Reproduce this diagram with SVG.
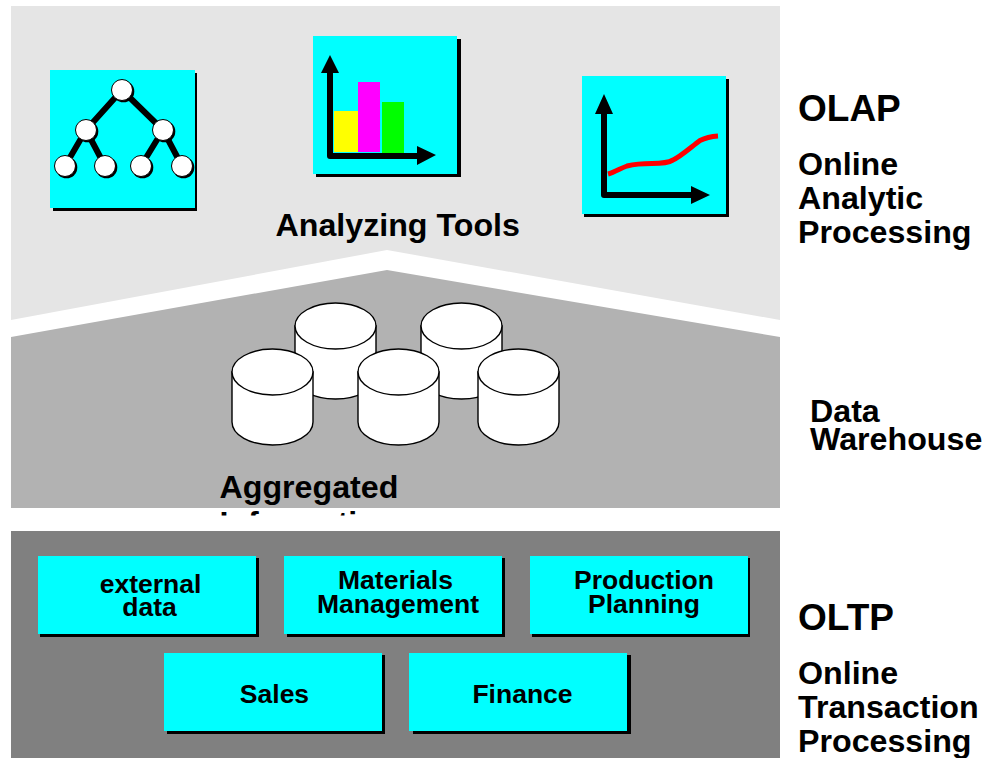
<svg xmlns="http://www.w3.org/2000/svg" width="983" height="758" viewBox="0 0 983 758">
<style>
text{font-family:"Liberation Sans",Arial,sans-serif;font-weight:bold;fill:#000}
.l{font-size:32.2px}
.h{font-size:37px}
.b{font-size:26.5px;text-anchor:middle}
.c{fill:#0ff}
.s{fill:#000}
.ln{stroke:#000;stroke-width:6;fill:none}
.ax{stroke:#000;stroke-width:6;fill:none;stroke-linejoin:round;stroke-linecap:round}
.n{fill:#fff;stroke:#000;stroke-width:1}
.cy{fill:#fff;stroke:#000;stroke-width:1.4}
</style>
<defs>
<clipPath id="clip"><rect x="200" y="508" width="220" height="7.5"/></clipPath>
<g id="cyl">
<path class="cy" d="M0 23V73C0 86 18 96 40.5 96S81 86 81 73V23Z"/>
<ellipse class="cy" cx="40.5" cy="23" rx="40.5" ry="23"/>
</g>
<g id="nd">
<circle cx="1.5" cy="1.5" r="10.8" fill="#000"/>
<circle class="n" r="10.5"/>
</g>
</defs>
<rect width="983" height="758" fill="#fff"/>
<g id="panels">
<path d="M11 6H780V320L387 250L11 320Z" fill="#e5e5e5"/>
<path d="M11 337L387 270L780 337V508H11Z" fill="#b2b2b2"/>
<rect x="11" y="531" width="769" height="227" fill="#808080"/>
</g>
<g id="tree-icon">
<rect class="s" x="53" y="73" width="144" height="138"/>
<rect class="c" x="50" y="70" width="145" height="138"/>
<path class="ln" d="M122 90L86 130L65 166M86 130L105 166M122 90L163 130L141 166M163 130L182 166"/>
<use href="#nd" x="122" y="90"/><use href="#nd" x="86" y="130"/><use href="#nd" x="163" y="130"/>
<use href="#nd" x="65" y="166"/><use href="#nd" x="105" y="166"/><use href="#nd" x="141" y="166"/><use href="#nd" x="182" y="166"/>
</g>
<g id="bar-icon">
<rect class="s" x="316" y="39" width="145" height="138"/>
<rect class="c" x="313" y="36" width="144" height="138"/>
<rect x="334" y="111" width="24" height="41" fill="#ff0"/>
<rect x="358" y="82" width="22" height="70" fill="#f0f"/>
<rect x="382" y="102" width="22" height="51" fill="#0f0"/>
<path class="ax" d="M330 70V156H418"/>
<path d="M330 55L339 73H321Z M436 155L417 146V165Z"/>
</g>
<g id="line-icon">
<rect class="s" x="584" y="79" width="145" height="138"/>
<rect class="c" x="582" y="76" width="144" height="138"/>
<path class="ax" d="M604 110V195H692"/>
<path d="M604 94L613 114H595Z M710 195L691 186V204Z"/>
<path d="M608 174C615 172 621 168 627 166C635 164 645 163.500 652 163.500C660 163.500 668 163 673 160C680 157 690 148 700 140.500C705 138 711 136.500 718 136" fill="none" stroke="#f00" stroke-width="5"/>
</g>
<g id="analyzing-label"><text class="l" x="275.500" y="236">Analyzing Tools</text></g>
<g id="databases">
<use href="#cyl" x="295" y="303"/>
<use href="#cyl" x="421" y="303"/>
<use href="#cyl" x="232" y="349"/>
<use href="#cyl" x="358" y="349"/>
<use href="#cyl" x="478" y="349"/>
</g>
<g id="aggregated-label">
<text class="l" x="219.500" y="498">Aggregated</text>
<g clip-path="url(#clip)"><text class="l" x="219.500" y="534">Information</text></g>
</g>
<g id="external-data">
<rect class="s" x="40" y="558" width="219" height="79"/>
<rect class="c" x="38" y="556" width="218" height="78"/>
<text class="b" x="150.500" y="593">external</text><text class="b" x="149.500" y="616">data</text>
</g>
<g id="materials-management">
<rect class="s" x="287" y="558" width="218" height="79"/>
<rect class="c" x="284" y="556" width="218" height="78"/>
<text class="b" x="395.500" y="589">Materials</text><text class="b" x="398" y="613">Management</text>
</g>
<g id="production-planning">
<rect class="s" x="532" y="558" width="218" height="79"/>
<rect class="c" x="530" y="556" width="218" height="78"/>
<text class="b" x="644" y="589">Production</text><text class="b" x="644" y="613">Planning</text>
</g>
<g id="sales">
<rect class="s" x="167" y="655" width="218" height="79"/>
<rect class="c" x="164" y="653" width="218" height="78"/>
<text class="b" x="274.500" y="703">Sales</text>
</g>
<g id="finance">
<rect class="s" x="413" y="655" width="218" height="79"/>
<rect class="c" x="409" y="653" width="218" height="78"/>
<text class="b" x="522.500" y="703">Finance</text>
</g>
<g id="olap-label">
<text class="h" x="798" y="121">OLAP</text>
<text class="l" x="798" y="175">Online</text>
<text class="l" x="798" y="209">Analytic</text>
<text class="l" x="798" y="243">Processing</text>
</g>
<g id="warehouse-label">
<text class="l" x="810" y="422">Data</text>
<text class="l" x="810" y="450">Warehouse</text>
</g>
<g id="oltp-label">
<text class="h" x="798" y="630">OLTP</text>
<text class="l" x="798" y="684">Online</text>
<text class="l" x="798" y="718">Transaction</text>
<text class="l" x="798" y="752">Processing</text>
</g>
</svg>
